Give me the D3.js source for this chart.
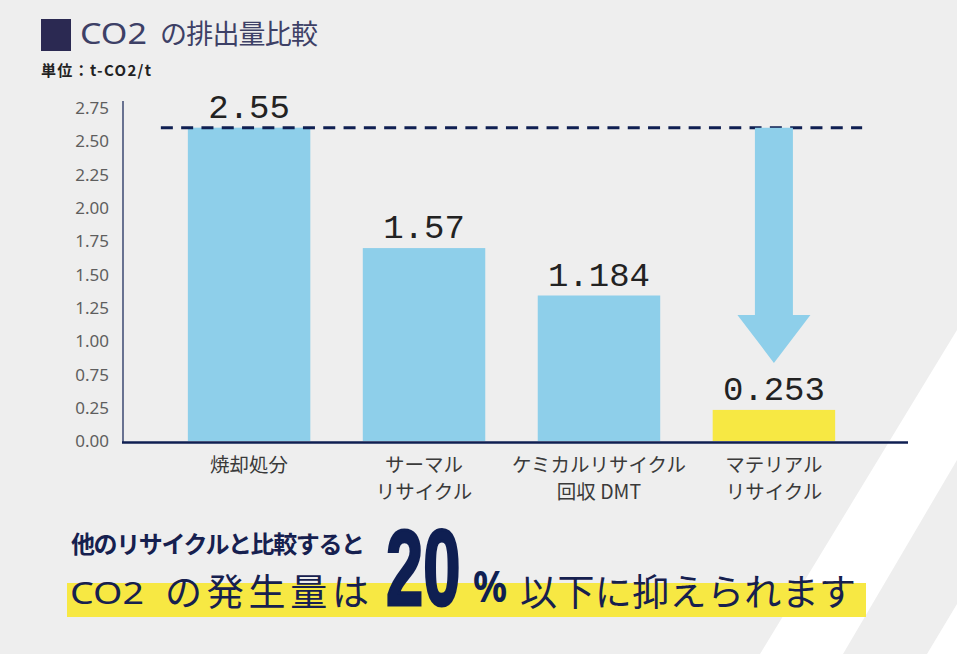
<!DOCTYPE html>
<html><head><meta charset="utf-8">
<script src="https://cdn.jsdelivr.net/npm/d3@7"></script>
<style>
html,body{margin:0;padding:0;background:#eeeeee;}
svg{display:block;}
</style></head>
<body>
<svg id="chart" width="957" height="654"></svg>
<script>
// ---- data ----
const categories = ["焼却処分", "サーマル\nリサイクル", "ケミカルリサイクル\n回収 DMT", "マテリアル\nリサイクル"];
const values = [2.55, 1.57, 1.184, 0.253];
const valueLabels = ["2.55", "1.57", "1.184", "0.253"];
const barColors = ["#8ecfea", "#8ecfea", "#8ecfea", "#f7e843"];
const tickLabels = ["0.00", "0.25", "0.75", "1.00", "1.25", "1.50", "1.75", "2.00", "2.25", "2.50", "2.75"];
const titleLatin = "CO2";
const titleJa = "の排出量比較";
const unitLabel = "単位：t-CO2/t";
const leadText = "他のリサイクルと比較すると";
const msgLatin = "CO2";
const msgJa1 = "の発生量は";
const msgNum = "20";
const msgPct = "%";
const msgJa2 = "以下に抑えられます";

// ---- setup ----
const W = 957, H = 654;
const NAVY = "#0f1f52";
const JA = "'Noto Sans CJK JP', 'Noto Sans', sans-serif";
const svg = d3.select("#chart");

svg.append("rect").attr("width", W).attr("height", H).attr("fill", "#eeeeee");

// decorative white diagonal stripes
const stripes = [
  [[957, 330], [957, 460], [843, 654], [760, 654]],
  [[957, 604], [957, 654], [927, 654]]
];
svg.selectAll("polygon.stripe").data(stripes).join("polygon")
  .attr("class", "stripe")
  .attr("points", d => d.map(p => p.join(",")).join(" "))
  .attr("fill", "#ffffff");

// ---- title ----
svg.append("rect").attr("x", 41).attr("y", 19).attr("width", 30).attr("height", 32).attr("fill", "#2b2952");
svg.append("text").attr("x", 80).attr("y", 44)
  .attr("font-family", "'Noto Sans', sans-serif").attr("font-size", 29)
  .attr("fill", "#3d4066")
  .attr("textLength", 67).attr("lengthAdjust", "spacingAndGlyphs")
  .text(titleLatin);
svg.append("text").attr("x", 160).attr("y", 44)
  .attr("font-family", JA).attr("font-size", 27)
  .attr("fill", "#3d4066")
  .attr("textLength", 158).attr("lengthAdjust", "spacing")
  .text(titleJa);
svg.append("text").attr("x", 41).attr("y", 76)
  .attr("font-family", JA).attr("font-size", 15).attr("font-weight", 700)
  .attr("fill", "#222")
  .attr("textLength", 110).attr("lengthAdjust", "spacing")
  .text(unitLabel);

// ---- scales ----
const y0 = 441, yTop = 108;
const y = d3.scaleLinear().domain([0, 2.71]).range([y0, yTop]);
const x = d3.scaleBand().domain(categories).range([124, 899]).paddingInner(0.3).paddingOuter(0.365);
const yTicks = d3.scalePoint().domain(tickLabels).range([y0 + 0.5, yTop]);

// y tick labels
const yAxis = svg.append("g").attr("transform", "translate(123,0)")
  .call(d3.axisLeft(yTicks).tickSize(0).tickPadding(14));
yAxis.select(".domain").remove();
yAxis.selectAll("text")
  .attr("font-family", "'Noto Sans', sans-serif").attr("font-size", 17)
  .attr("fill", "#5e5e5e");

// y axis line
svg.append("line").attr("x1", 123).attr("x2", 123).attr("y1", 101).attr("y2", y0 + 1)
  .attr("stroke", NAVY).attr("stroke-width", 1.2);

// bars
svg.selectAll("rect.bar").data(values).join("rect")
  .attr("class", "bar")
  .attr("x", (d, i) => x(categories[i]))
  .attr("width", x.bandwidth())
  .attr("y", d => y(d))
  .attr("height", d => y(0) - y(d))
  .attr("fill", (d, i) => barColors[i]);

// x axis line
svg.append("line").attr("x1", 122).attr("x2", 908).attr("y1", y0 + 1.5).attr("y2", y0 + 1.5)
  .attr("stroke", NAVY).attr("stroke-width", 2.5);

// dashed reference line at the first value
const dashX1 = x(categories[0]) - 27;
const dashX2 = x(categories[3]) + x.bandwidth() + 27;
svg.append("line").attr("x1", dashX1).attr("x2", dashX2)
  .attr("y1", y(values[0])).attr("y2", y(values[0]))
  .attr("stroke", NAVY).attr("stroke-width", 3).attr("stroke-dasharray", "12,8.3");

// arrow down toward the last bar
const ax = x(categories[3]) + x.bandwidth() / 2;
const shaftHalf = 19, headHalf = 36.5;
const tipY = y(values[3]) - 47;
const headTop = tipY - 48;
const arrowPts = [
  [ax - shaftHalf, y(values[0])], [ax + shaftHalf, y(values[0])],
  [ax + shaftHalf, headTop], [ax + headHalf, headTop], [ax, tipY],
  [ax - headHalf, headTop], [ax - shaftHalf, headTop]
];
svg.append("polygon").attr("points", arrowPts.map(p => p.join(",")).join(" "))
  .attr("fill", "#8ecfea");

// value labels
svg.selectAll("text.val").data(values).join("text")
  .attr("class", "val")
  .attr("x", (d, i) => x(categories[i]) + x.bandwidth() / 2)
  .attr("y", d => y(d) - 10)
  .attr("text-anchor", "middle")
  .attr("font-family", "'Liberation Mono', 'DejaVu Sans Mono', monospace").attr("font-size", 34)
  .attr("fill", "#222")
  .text((d, i) => valueLabels[i]);

// category labels (one text per line)
const catLines = [];
categories.forEach(c => c.split("\n").forEach((line, i) => catLines.push({ c, line, i })));
svg.selectAll("text.cat").data(catLines).join("text")
  .attr("class", "cat")
  .attr("x", d => x(d.c) + x.bandwidth() / 2)
  .attr("y", d => 472 + d.i * 27)
  .attr("text-anchor", "middle")
  .attr("font-family", JA).attr("font-size", 19.5)
  .attr("fill", "#3a3a3a")
  .text(d => d.line);

// ---- bottom message ----
svg.append("rect").attr("x", 67).attr("y", 583).attr("width", 799).attr("height", 34).attr("fill", "#f7e843");
svg.append("text").attr("x", 71).attr("y", 553)
  .attr("font-family", JA).attr("font-size", 24).attr("font-weight", 700)
  .attr("fill", "#16204f")
  .attr("textLength", 294).attr("lengthAdjust", "spacing")
  .text(leadText);
svg.append("text").attr("x", 70).attr("y", 604)
  .attr("font-family", "'Noto Sans', sans-serif").attr("font-size", 30)
  .attr("fill", "#16204f")
  .attr("textLength", 74).attr("lengthAdjust", "spacingAndGlyphs")
  .text(msgLatin);
svg.append("text").attr("x", 165).attr("y", 606)
  .attr("font-family", JA).attr("font-size", 37)
  .attr("fill", "#16204f")
  .attr("textLength", 204).attr("lengthAdjust", "spacing")
  .text(msgJa1);
// big condensed "20" (horizontal compression via transform)
svg.append("text").attr("transform", "translate(386,605) scale(0.62,1)")
  .attr("font-family", "'Liberation Sans', Arial, sans-serif").attr("font-size", 108).attr("font-weight", 700)
  .attr("fill", NAVY)
  .attr("stroke", NAVY).attr("stroke-width", 3)
  .text(msgNum);
svg.append("text").attr("transform", "translate(473,602) scale(0.88,1)")
  .attr("font-family", "'Noto Sans', sans-serif").attr("font-size", 43).attr("font-weight", 700)
  .attr("fill", NAVY)
  .text(msgPct);
svg.append("text").attr("x", 520).attr("y", 606)
  .attr("font-family", JA).attr("font-size", 37)
  .attr("fill", "#16204f")
  .attr("textLength", 336).attr("lengthAdjust", "spacing")
  .text(msgJa2);
</script>
</body></html>
